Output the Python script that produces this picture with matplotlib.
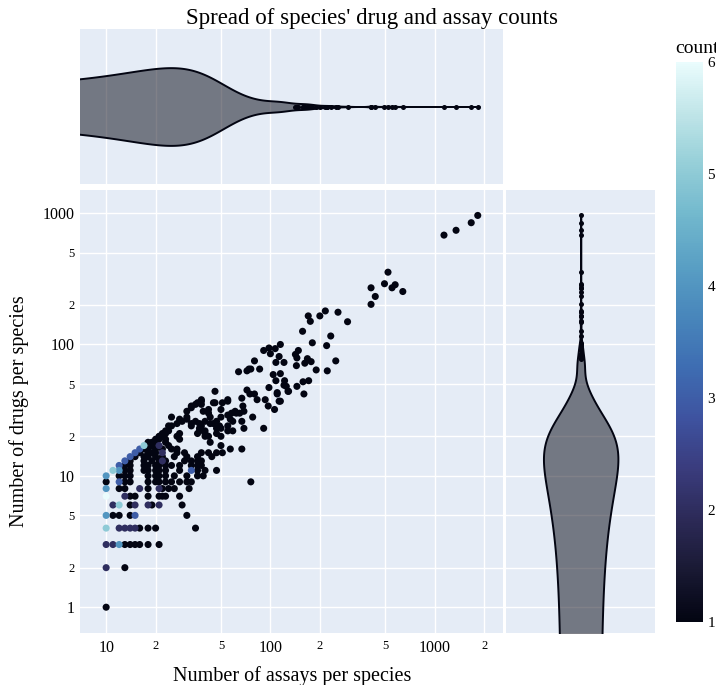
import numpy as np
import matplotlib.pyplot as plt
from matplotlib.colors import LinearSegmentedColormap, Normalize
from matplotlib.cm import ScalarMappable

plt.rcParams['font.family'] = ['Liberation Serif', 'DejaVu Serif']

# one entry per marker (by drug count)
assays = [
    10,
    10, 13,
    10, 11, 12, 13, 14, 15, 16, 18, 21,
    10, 12, 13, 14, 15, 16, 18, 20, 35,
    10, 11, 12, 14, 15, 31,
    11, 12, 14, 15, 18, 19, 21, 29,
    10, 13, 14, 15, 18, 21, 22, 23, 28,
    10, 12, 13, 16, 18, 21, 22, 24, 26, 32,
    10, 12, 13, 14, 18, 20, 21, 23, 25, 28, 31, 33, 76,
    10, 12, 13, 14, 18, 20, 21, 23, 26, 31, 36, 39,
    11, 12, 13, 14, 17, 18, 20, 21, 23, 28, 33, 36, 40, 47,
    12, 13, 14, 17, 18, 20, 21, 23, 25, 28, 33, 36, 38,
    13, 14, 17, 19, 21, 22, 23, 30, 33, 36, 38,
    14, 15, 17, 18, 20, 22, 26, 31, 36, 44,
    15, 16, 18, 19, 20, 22, 27, 30, 38, 42, 47, 51,
    16, 17, 18, 20, 22, 25, 27, 57, 67,
    17, 19, 21, 24, 50,
    18, 19, 20, 23, 43,
    20, 21, 23, 28,
    21, 22, 27, 40, 42, 50,
    22, 23, 28, 36, 40, 47,
    23, 24, 37, 40, 55, 59,
    37, 47, 50, 69, 91,
    24, 25, 33, 38, 49, 55,
    27, 33, 37, 43, 45,
    29, 35, 40, 47, 59, 67,
    28, 31, 57,
    25, 31, 43, 50, 78,
    55,
    42, 58, 62, 65,
    31, 39, 61, 69,
    42, 50, 106,
    33,
    33, 68, 97,
    35, 38,
    36, 45, 46, 51,
    38, 55, 113, 115,
    38, 55, 83, 93,
    67,
    75, 80, 110, 160,
    110,
    46, 128, 129,
    72,
    98,
    125, 145,
    121,
    158,
    108, 122, 171,
    104, 115, 64, 72, 222, 190, 74, 76, 86,
    144, 162, 108, 121, 177, 80, 250, 168, 145,
    113, 142, 100, 91, 148, 107, 98, 220, 115,
    180, 233, 157, 295, 175, 170, 200, 258, 216,
    410, 435, 640, 410, 550, 575, 495, 520,
    1140, 1350, 1670, 1830,
]
drugs = [
    1,
    2, 2,
    3, 3, 3, 3, 3, 3, 3, 3, 3,
    4, 4, 4, 4, 4, 4, 4, 4, 4,
    5, 5, 5, 5, 5, 5,
    6, 6, 6, 6, 6, 6, 6, 6,
    7, 7, 7, 7, 7, 7, 7, 7, 7,
    8, 8, 8, 8, 8, 8, 8, 8, 8, 8,
    9, 9, 9, 9, 9, 9, 9, 9, 9, 9, 9, 9, 9,
    10, 10, 10, 10, 10, 10, 10, 10, 10, 10, 10, 10,
    11, 11, 11, 11, 11, 11, 11, 11, 11, 11, 11, 11, 11, 11,
    12, 12, 12, 12, 12, 12, 12, 12, 12, 12, 12, 12, 12,
    13, 13, 13, 13, 13, 13, 13, 13, 13, 13, 13,
    14, 14, 14, 14, 14, 14, 14, 14, 14, 14,
    15, 15, 15, 15, 15, 15, 15, 15, 15, 15, 15, 15,
    16, 16, 16, 16, 16, 16, 16, 16, 16,
    17, 17, 17, 17, 17,
    18, 18, 18, 18, 18,
    19, 19, 19, 19,
    20, 20, 20, 20, 20, 20,
    21, 21, 21, 21, 21, 21,
    22, 22, 22, 22, 22, 22,
    23, 23, 23, 23, 23,
    24, 24, 24, 24, 24, 24,
    25, 25, 25, 25, 25,
    26, 26, 26, 26, 26, 26,
    27, 27, 27,
    28, 28, 28, 28, 28,
    29,
    30, 30, 30, 30,
    31, 31, 31, 31,
    32, 32, 32,
    33,
    34, 34, 34,
    35, 35,
    36, 36, 36, 36,
    37, 37, 37, 37,
    38, 38, 38, 38,
    39,
    42, 42, 42, 42,
    43,
    44, 44, 44,
    45,
    47,
    48, 48,
    49,
    52,
    53, 53, 53,
    59, 60, 62, 63, 63, 64, 65, 65, 65,
    69, 72, 73, 73, 74, 75, 75, 78, 79,
    81, 84, 85, 90, 90, 93, 94, 98, 100,
    103, 116, 126, 149, 150, 165, 165, 176, 180,
    202, 232, 253, 270, 270, 285, 290, 355,
    680, 740, 845, 960,
]
# how many species share each (assays, drugs) pair
species = [
    1,
    2, 1,
    2, 2, 4, 1, 1, 1, 1, 1, 1,
    5, 2, 2, 2, 2, 1, 1, 1, 1,
    4, 1, 1, 1, 3, 1,
    2, 5, 1, 2, 2, 1, 2, 1,
    6, 2, 1, 1, 1, 1, 1, 1, 1,
    4, 1, 1, 2, 1, 2, 1, 1, 1, 1,
    1, 3, 1, 1, 1, 1, 1, 1, 1, 1, 1, 1, 1,
    4, 1, 1, 1, 1, 1, 1, 1, 1, 1, 1, 1,
    5, 4, 1, 1, 1, 1, 1, 1, 1, 1, 3, 1, 1, 1,
    3, 1, 1, 1, 1, 1, 1, 1, 1, 1, 1, 1, 1,
    3, 1, 1, 1, 1, 2, 1, 1, 1, 1, 1,
    3, 1, 1, 1, 1, 1, 1, 1, 1, 1,
    3, 1, 1, 1, 1, 2, 1, 1, 1, 1, 1, 1,
    3, 1, 1, 1, 1, 1, 1, 1, 1,
    5, 1, 2, 1, 1,
    1, 1, 1, 1, 1,
    1, 1, 1, 1,
    1, 1, 1, 1, 1, 1,
    1, 1, 1, 1, 1, 1,
    1, 1, 1, 1, 1, 1,
    1, 1, 1, 1, 1,
    1, 1, 1, 1, 1, 1,
    1, 1, 1, 1, 1,
    1, 1, 1, 1, 1, 1,
    1, 1, 1,
    1, 1, 1, 1, 1,
    1,
    1, 1, 1, 1,
    1, 1, 1, 1,
    1, 1, 1,
    1,
    1, 1, 1,
    1, 1,
    1, 1, 1, 1,
    1, 1, 1, 1,
    1, 1, 1, 1,
    1,
    1, 1, 1, 1,
    1,
    1, 1, 1,
    1,
    1,
    1, 1,
    1,
    1,
    1, 1, 1,
    1, 1, 1, 1, 1, 1, 1, 1, 1,
    1, 1, 1, 1, 1, 1, 1, 1, 1,
    1, 1, 1, 1, 1, 1, 1, 1, 1,
    1, 1, 1, 1, 1, 1, 1, 1, 1,
    1, 1, 1, 1, 1, 1, 1, 1,
    1, 1, 1, 1,
]

x_ticks = [10, 20, 50, 100, 200, 500, 1000, 2000]
y_ticks = [1, 2, 5, 10, 20, 50, 100, 200, 500, 1000]
count_ticks = [1, 2, 3, 4, 5, 6]

ice = ['#030512', '#191933', '#2c2a57', '#3a3c7d', '#3e53a0', '#3e6db2',
       '#4886bb', '#599fc4', '#72b8cd', '#95cfd8', '#c0e5e8', '#eafcfd']

BG = '#E5ECF6'
DARK = '#030512'

a = np.array(assays, dtype=float)
d = np.array(drugs, dtype=float)
c = np.array(species)
assert len(a) == len(d) == len(c)


def log_label(v):
    # plotly style: full number at decades, leading digit in between
    if np.isclose(np.log10(v), round(np.log10(v))):
        return str(v)
    return str(v)[0]


def violin(values):
    # same rule as plotly: Silverman bandwidth, but never below span / 100
    q1, q3 = np.percentile(values, [25, 75])
    iqr = q3 - q1
    bw = 1.059 * min(values.std(ddof=1), iqr / 1.349) * len(values) ** -0.2
    bw = max(bw, (values.max() - values.min()) / 100)
    grid = np.geomspace(0.1, values.max() + 2 * bw, 1500)
    dens = np.exp(-0.5 * ((grid[:, None] - values[None, :]) / bw) ** 2).sum(axis=1)
    half = dens / dens.max()
    out = values[values > q3 + 1.5 * iqr]
    return grid, half, out


def clean(axis):
    axis.set_facecolor(BG)
    for s in axis.spines.values():
        s.set_visible(False)
    axis.tick_params(length=0)
    axis.set_axisbelow(True)


cmap = LinearSegmentedColormap.from_list('ice', ice)
norm = Normalize(1, 6)

fig = plt.figure(figsize=(7.16, 6.85), dpi=100)
ax = fig.add_axes([0.112, 0.076, 0.591, 0.647])
ax_top = fig.add_axes([0.112, 0.731, 0.591, 0.227])
ax_right = fig.add_axes([0.707, 0.076, 0.208, 0.647])
cax = fig.add_axes([0.944, 0.092, 0.038, 0.818])

xlim = (6.95, 2620)
ylim = (0.637, 1506)

# main scatter
clean(ax)
order = np.argsort(c, kind='stable')
ax.scatter(a[order], d[order], c=c[order], cmap=cmap, norm=norm, s=26,
           linewidths=0, zorder=3)
ax.set_xscale('log')
ax.set_yscale('log')
ax.minorticks_off()
ax.set_xticks(x_ticks, [log_label(v) for v in x_ticks])
ax.set_yticks(y_ticks, [log_label(v) for v in y_ticks])
ax.minorticks_off()
ax.set_xlim(*xlim)
ax.set_ylim(*ylim)
ax.grid(True, color='white', lw=1.0)
for lab in ax.get_xticklabels() + ax.get_yticklabels():
    lab.set_fontsize(11.5 if len(lab.get_text()) > 1 or lab.get_text() == '1' else 9)
ax.tick_params(axis='x', pad=5)
ax.tick_params(axis='y', pad=4)
ax.set_xlabel('Number of assays per species', fontsize=14.5, labelpad=7)
ax.set_ylabel('Number of drugs per species', fontsize=14.5, labelpad=10)

# marginal violins, one sample per plotted row
clean(ax_top)
g, h, out = violin(a)
ax_top.fill_between(g, -h, h, facecolor=(3/255, 5/255, 18/255, 0.5),
                    edgecolor=DARK, lw=1.4, zorder=3)
ax_top.scatter(out, np.zeros_like(out), s=13, color=DARK, linewidths=0, zorder=4)
ax_top.set_xscale('log')
ax_top.minorticks_off()
ax_top.set_xticks(x_ticks)
ax_top.minorticks_off()
ax_top.set_xlim(*xlim)
ax_top.set_ylim(-2, 2)
ax_top.set_yticks([])
ax_top.tick_params(labelbottom=False)
ax_top.grid(True, axis='x', color='white', lw=1.0)

clean(ax_right)
g, h, out = violin(d)
ax_right.fill_betweenx(g, -h, h, facecolor=(3/255, 5/255, 18/255, 0.5),
                       edgecolor=DARK, lw=1.4, zorder=3)
ax_right.scatter(np.zeros_like(out), out, s=13, color=DARK, linewidths=0, zorder=4)
ax_right.set_yscale('log')
ax_right.minorticks_off()
ax_right.set_yticks(y_ticks)
ax_right.minorticks_off()
ax_right.set_ylim(*ylim)
ax_right.set_xlim(-2, 2)
ax_right.set_xticks([])
ax_right.tick_params(labelleft=False)
ax_right.grid(True, axis='y', color='white', lw=1.0)

# colour bar
cb = fig.colorbar(ScalarMappable(norm=norm, cmap=cmap), cax=cax, ticks=count_ticks)
cb.outline.set_visible(False)
cax.tick_params(length=0, labelsize=11, pad=3)
fig.text(0.943, 0.929, 'count', ha='left', va='center', fontsize=14)

fig.text(0.52, 0.973, "Spread of species' drug and assay counts",
         ha='center', va='center', fontsize=16.5)

fig.savefig('out.png', dpi=100, facecolor='white')
